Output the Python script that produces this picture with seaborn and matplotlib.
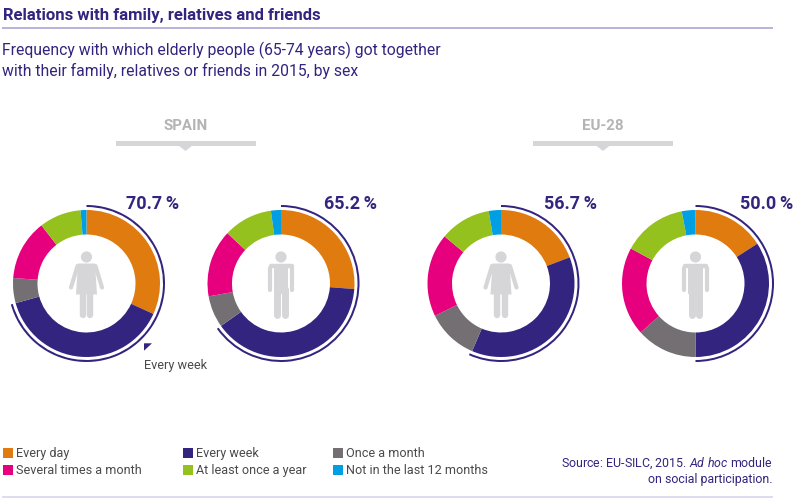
import matplotlib
matplotlib.use("Agg")
import matplotlib.pyplot as plt
from matplotlib.patches import Polygon, Circle, Rectangle
import seaborn as sns

# ---- data ----
categories = ["Every day", "Every week", "Once a month",
              "Several times a month", "At least once a year", "Not in the last 12 months"]
spain_women = [31.8, 38.9, 5.5, 13.3, 9.2, 1.3]
spain_men = [26.2, 39.0, 7.0, 14.8, 10.8, 2.2]
eu_women = [19.3, 37.4, 11.4, 18.4, 11.3, 2.7]
eu_men = [15.9, 34.1, 13.4, 19.5, 14.1, 3.0]
totals = [70.7, 65.2, 56.7, 50.0]
total_labels = ["70.7\u2009%", "65.2\u2009%", "56.7\u2009%", "50.0\u2009%"]
groups = ["SPAIN", "EU-28"]

NAVY = "#32247F"
LIGHT = "#D6D5D8"
palette = sns.color_palette(["#E07B10", NAVY, "#746F72", "#E6007E", "#95C11F", "#009FE3"])

sns.set_theme(style="white")
FONT = ["Roboto", "DejaVu Sans"]
plt.rcParams["font.family"] = FONT
plt.rcParams["mathtext.fontset"] = "custom"
plt.rcParams["mathtext.it"] = "Roboto:italic"
plt.rcParams["mathtext.rm"] = "Roboto"

W, H = 800, 498
fig = plt.figure(figsize=(W / 100, H / 100), dpi=100, facecolor="white")

ov = fig.add_axes([0, 0, 1, 1], zorder=5)
ov.set_xlim(0, W)
ov.set_ylim(H, 0)
ov.axis("off")
ov.patch.set_alpha(0)

R = 73.5
HALF = 84.0
centers = [(86.5, 283.5), (281, 283.5), (501, 283.5), (695.5, 283.5)]
series = [spain_women, spain_men, eu_women, eu_men]
label_x = [179, 376.5, 597, 793.5]
female = [True, False, True, False]


def draw_woman(cx, cy):
    ov.add_patch(Circle((cx, cy - 26.5), 5.6, fc=LIGHT, ec="none"))
    ov.add_patch(Polygon([(cx - 8.5, cy - 20), (cx + 8.5, cy - 20), (cx + 10.5, cy + 11), (cx - 10.5, cy + 11)],
                         fc=LIGHT, ec="none"))
    for s in (-1, 1):
        ov.plot([cx + s * 9, cx + s * 15.5], [cy - 17.5, cy + 4], color=LIGHT, lw=3.0,
                solid_capstyle="round")
        ov.plot([cx + s * 3.7] * 2, [cy + 9, cy + 31.5], color=LIGHT, lw=4.6,
                solid_capstyle="round")


def draw_man(cx, cy):
    ov.add_patch(Circle((cx, cy - 26.5), 5.6, fc=LIGHT, ec="none"))
    ov.add_patch(Rectangle((cx - 7.3, cy - 20), 14.6, 30, fc=LIGHT, ec="none"))
    ov.plot([cx - 10.5, cx + 10.5], [cy - 17.5, cy - 17.5], color=LIGHT, lw=3.2, solid_capstyle="round")
    for s in (-1, 1):
        ov.plot([cx + s * 11.2] * 2, [cy - 16, cy + 6.5], color=LIGHT, lw=3.0,
                solid_capstyle="round")
        ov.plot([cx + s * 3.8] * 2, [cy + 5, cy + 31.5], color=LIGHT, lw=5,
                solid_capstyle="round")


for (cx, cy), vals, tot, lab, lx, fem in zip(centers, series, totals, total_labels, label_x, female):
    ax = fig.add_axes([(cx - HALF) / W, 1 - (cy + HALF) / H, 2 * HALF / W, 2 * HALF / H])
    ax.pie(vals, colors=palette, startangle=90, counterclock=False, radius=1,
           wedgeprops=dict(width=24.5 / R, linewidth=0))
    ax.pie([tot, 100 - tot], colors=[NAVY, (1, 1, 1, 0)], startangle=90, counterclock=False,
           radius=78.5 / R, wedgeprops=dict(width=2.0 / R, linewidth=0))
    ax.set_xlim(-HALF / R, HALF / R)
    ax.set_ylim(-HALF / R, HALF / R)
    ax.patch.set_alpha(0)
    ov.text(lx, 204, lab, ha="right", va="center", color=NAVY, fontsize=13, fontweight="bold")
    (draw_woman if fem else draw_man)(cx, cy)

ov.text(3, 15.5, "Relations with family, relatives and friends", color=NAVY, fontsize=12,
        fontweight="bold", va="center", ha="left")
ov.plot([2, 773], [28, 28], color="#ABA6D2", lw=1.2, solid_capstyle="butt")
ov.text(2.5, 50, "Frequency with which elderly people (65-74 years) got together", color=NAVY,
        fontsize=11.3, va="center", ha="left")
ov.text(2.5, 70.5, "with their family, relatives or friends in 2015, by sex", color=NAVY,
        fontsize=11.3, va="center", ha="left")

for name, gx in zip(groups, [185.5, 603]):
    ov.text(gx, 126, name, ha="center", va="center", color="#B5B3B6", fontsize=10.8, fontweight="bold")
    ov.add_patch(Rectangle((gx - 70, 140.5), 140, 5, fc=LIGHT, ec="none"))
    ov.add_patch(Polygon([(gx - 7.5, 145), (gx + 7.5, 145), (gx, 151)], fc=LIGHT, ec="none"))

ov.add_patch(Polygon([(144, 343.3), (152, 343.3), (144, 350.7)], fc=NAVY, ec="none"))
ov.text(144, 365, "Every week", ha="left", va="center", color="#4A4A4A", fontsize=9.2)

col_x = [3, 183, 333]
row_y = [453, 470]
order = [(0, 0), (1, 0), (2, 0), (0, 1), (1, 1), (2, 1)]
for i, (c, r) in enumerate(order):
    ov.add_patch(Rectangle((col_x[c], row_y[r] - 5), 10, 10, fc=palette[i], ec="none"))
    ov.text(col_x[c] + 13, row_y[r], categories[i], ha="left", va="center",
            color="#4A4A4A", fontsize=9.05)

ov.text(773, 463, r"Source: EU-SILC, 2015. $\mathit{Ad\ hoc}$ module", ha="right", va="center",
        color=NAVY, fontsize=8.9)
ov.text(773, 479.5, "on social participation.", ha="right", va="center", color=NAVY, fontsize=8.9)
ov.plot([2, 773], [497, 497], color="#D8D6EC", lw=1.2, solid_capstyle="butt")

fig.savefig("out.png", dpi=100, facecolor="white")
